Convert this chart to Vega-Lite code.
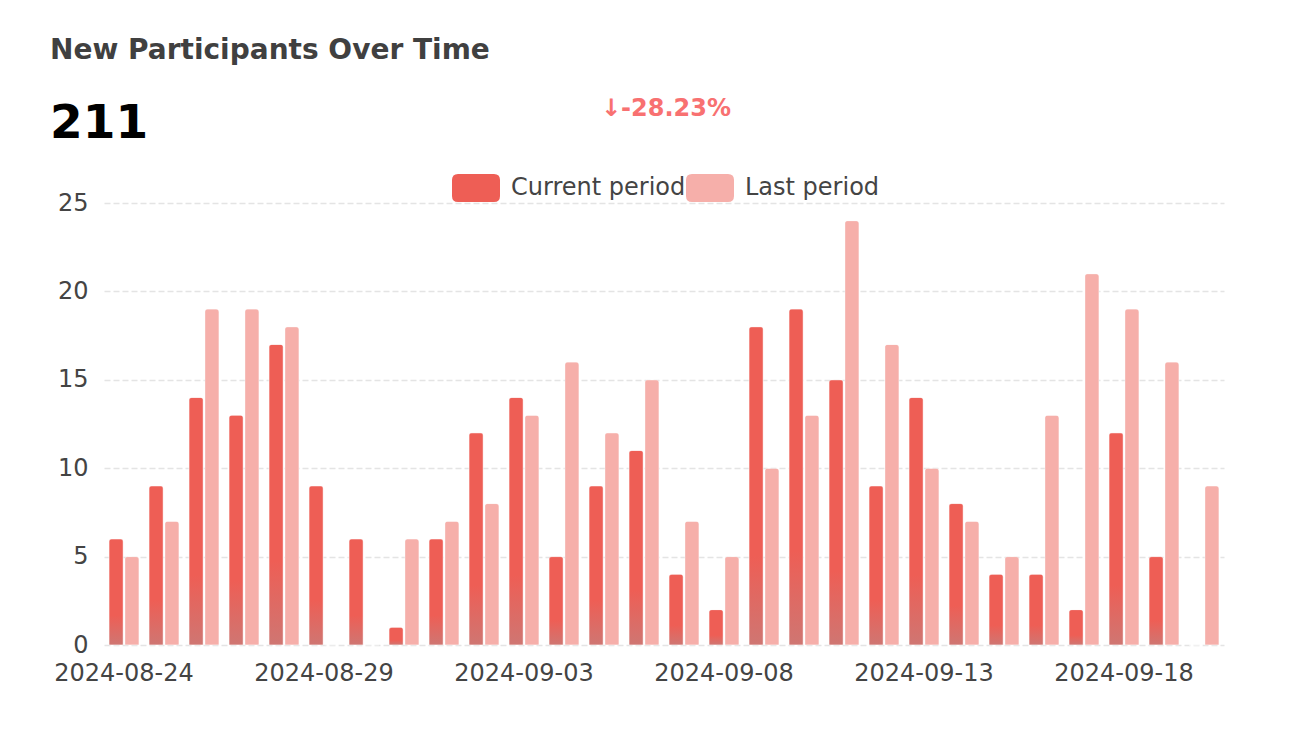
{
  "$schema": "https://vega.github.io/schema/vega-lite/v6.json",
  "width": 1120,
  "height": 442,
  "autosize": {"type": "none"},
  "padding": {"left": 104, "top": 203, "right": 90, "bottom": 93},
  "background": "#ffffff",
  "title": {
    "text": "New Participants Over Time",
    "subtitle": "211",
    "anchor": "start",
    "frame": "group",
    "dx": -54,
    "dy": 90,
    "offset": 40,
    "font": "DejaVu Sans",
    "fontSize": 28,
    "fontWeight": "bold",
    "color": "#404040",
    "subtitleFont": "DejaVu Sans",
    "subtitleFontSize": 47,
    "subtitleFontWeight": "bold",
    "subtitleColor": "#000000",
    "subtitlePadding": 36
  },
  "data": {
    "values": [
      {"date": "2024-08-24", "period": "Current period", "value": 6},
      {"date": "2024-08-25", "period": "Current period", "value": 9},
      {"date": "2024-08-26", "period": "Current period", "value": 14},
      {"date": "2024-08-27", "period": "Current period", "value": 13},
      {"date": "2024-08-28", "period": "Current period", "value": 17},
      {"date": "2024-08-29", "period": "Current period", "value": 9},
      {"date": "2024-08-30", "period": "Current period", "value": 6},
      {"date": "2024-08-31", "period": "Current period", "value": 1},
      {"date": "2024-09-01", "period": "Current period", "value": 6},
      {"date": "2024-09-02", "period": "Current period", "value": 12},
      {"date": "2024-09-03", "period": "Current period", "value": 14},
      {"date": "2024-09-04", "period": "Current period", "value": 5},
      {"date": "2024-09-05", "period": "Current period", "value": 9},
      {"date": "2024-09-06", "period": "Current period", "value": 11},
      {"date": "2024-09-07", "period": "Current period", "value": 4},
      {"date": "2024-09-08", "period": "Current period", "value": 2},
      {"date": "2024-09-09", "period": "Current period", "value": 18},
      {"date": "2024-09-10", "period": "Current period", "value": 19},
      {"date": "2024-09-11", "period": "Current period", "value": 15},
      {"date": "2024-09-12", "period": "Current period", "value": 9},
      {"date": "2024-09-13", "period": "Current period", "value": 14},
      {"date": "2024-09-14", "period": "Current period", "value": 8},
      {"date": "2024-09-15", "period": "Current period", "value": 4},
      {"date": "2024-09-16", "period": "Current period", "value": 4},
      {"date": "2024-09-17", "period": "Current period", "value": 2},
      {"date": "2024-09-18", "period": "Current period", "value": 12},
      {"date": "2024-09-19", "period": "Current period", "value": 5},
      {"date": "2024-09-20", "period": "Current period", "value": 0},
      {"date": "2024-08-24", "period": "Last period", "value": 5},
      {"date": "2024-08-25", "period": "Last period", "value": 7},
      {"date": "2024-08-26", "period": "Last period", "value": 19},
      {"date": "2024-08-27", "period": "Last period", "value": 19},
      {"date": "2024-08-28", "period": "Last period", "value": 18},
      {"date": "2024-08-29", "period": "Last period", "value": 0},
      {"date": "2024-08-30", "period": "Last period", "value": 0},
      {"date": "2024-08-31", "period": "Last period", "value": 6},
      {"date": "2024-09-01", "period": "Last period", "value": 7},
      {"date": "2024-09-02", "period": "Last period", "value": 8},
      {"date": "2024-09-03", "period": "Last period", "value": 13},
      {"date": "2024-09-04", "period": "Last period", "value": 16},
      {"date": "2024-09-05", "period": "Last period", "value": 12},
      {"date": "2024-09-06", "period": "Last period", "value": 15},
      {"date": "2024-09-07", "period": "Last period", "value": 7},
      {"date": "2024-09-08", "period": "Last period", "value": 5},
      {"date": "2024-09-09", "period": "Last period", "value": 10},
      {"date": "2024-09-10", "period": "Last period", "value": 13},
      {"date": "2024-09-11", "period": "Last period", "value": 24},
      {"date": "2024-09-12", "period": "Last period", "value": 17},
      {"date": "2024-09-13", "period": "Last period", "value": 10},
      {"date": "2024-09-14", "period": "Last period", "value": 7},
      {"date": "2024-09-15", "period": "Last period", "value": 5},
      {"date": "2024-09-16", "period": "Last period", "value": 13},
      {"date": "2024-09-17", "period": "Last period", "value": 21},
      {"date": "2024-09-18", "period": "Last period", "value": 19},
      {"date": "2024-09-19", "period": "Last period", "value": 16},
      {"date": "2024-09-20", "period": "Last period", "value": 9}
    ]
  },
  "encoding": {
    "x": {
      "field": "date",
      "type": "nominal",
      "sort": null,
      "title": null,
      "scale": {"paddingInner": 0.25, "paddingOuter": 0.125},
      "axis": {
        "values": ["2024-08-24", "2024-08-29", "2024-09-03", "2024-09-08", "2024-09-13", "2024-09-18"],
        "labelAngle": 0,
        "labelFont": "DejaVu Sans",
        "labelFontSize": 24,
        "labelColor": "#444444",
        "labelPadding": 16,
        "ticks": false,
        "domain": false,
        "grid": false
      }
    },
    "xOffset": {
      "field": "period",
      "type": "nominal",
      "scale": {"domain": ["Current period", "Last period"], "paddingInner": 0.1, "paddingOuter": 0}
    },
    "y": {
      "field": "value",
      "type": "quantitative",
      "title": null,
      "scale": {"domain": [0, 25], "nice": false},
      "axis": {
        "values": [0, 5, 10, 15, 20, 25],
        "labelFont": "DejaVu Sans",
        "labelFontSize": 24,
        "labelColor": "#444444",
        "labelPadding": 16,
        "ticks": false,
        "domain": false,
        "grid": true,
        "gridColor": "#e4e4e4",
        "gridDash": [6, 3],
        "gridWidth": 1.5
      }
    }
  },
  "layer": [
    {
      "mark": {
        "type": "bar",
        "cornerRadiusEnd": 3,
        "stroke": "#ffffff",
        "strokeOpacity": 0.35,
        "strokeWidth": 1
      },
      "encoding": {
        "color": {
          "field": "period",
          "type": "nominal",
          "scale": {"domain": ["Current period", "Last period"], "range": ["#EE5E55", "#F6AFAA"]},
          "legend": {
            "orient": "none",
            "direction": "horizontal",
            "legendX": 348,
            "legendY": -106,
            "padding": 0,
            "title": "↓-28.23%",
            "titleAnchor": "middle",
            "titleFont": "DejaVu Sans",
            "titleFontSize": 24,
            "titleFontWeight": "bold",
            "titleColor": "#F87171",
            "titlePadding": 43,
            "symbolType": "M-0.75,-0.58 L0.75,-0.58 Q1,-0.58 1,-0.33 L1,0.33 Q1,0.58 0.75,0.58 L-0.75,0.58 Q-1,0.58 -1,0.33 L-1,-0.33 Q-1,-0.58 -0.75,-0.58 Z",
            "symbolSize": 2304,
            "symbolStrokeWidth": 0,
            "symbolOpacity": 1,
            "labelFont": "DejaVu Sans",
            "labelFontSize": 24,
            "labelColor": "#444444",
            "labelOffset": 11,
            "columnPadding": -2,
            "labelLimit": 400
          }
        }
      }
    },
    {
      "transform": [{"filter": "datum.period == 'Current period'"}],
      "mark": {
        "type": "bar",
        "cornerRadiusEnd": 3,
        "stroke": "#ffffff",
        "strokeOpacity": 0.35,
        "strokeWidth": 1,
        "fill": {
          "gradient": "linear",
          "x1": 0, "y1": 0, "x2": 0, "y2": 1,
          "stops": [
            {"offset": 0, "color": "#EE5E55"},
            {"offset": 0.72, "color": "#EE5E55"},
            {"offset": 1, "color": "#CF7672"}
          ]
        }
      },
      "encoding": {}
    }
  ],
  "config": {
    "view": {"stroke": null},
    "font": "DejaVu Sans"
  }
}
